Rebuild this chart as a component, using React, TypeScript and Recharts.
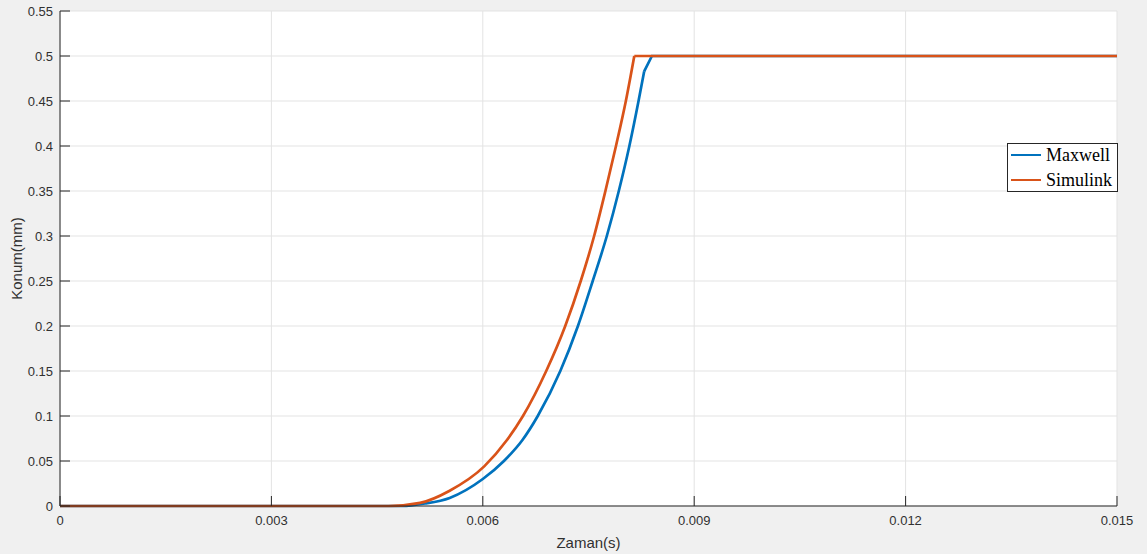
// MATLAB-style position plot: Maxwell vs Simulink armature travel.
import { LineChart, Line, XAxis, YAxis, CartesianGrid, Legend } from "recharts";

const xTicks = [0, 0.003, 0.006, 0.009, 0.012, 0.015];
const yTicks = [0, 0.05, 0.1, 0.15, 0.2, 0.25, 0.3, 0.35, 0.4, 0.45, 0.5, 0.55];

// Zaman (s) / Konum (mm)
const maxwellTime = [0, 0.00485, 0.00518, 0.00553, 0.006, 0.0063, 0.00656, 0.00678, 0.0071, 0.00735, 0.00756, 0.00776, 0.00793, 0.00808, 0.00821, 0.00829, 0.0084, 0.015];
const maxwellPos = [0, 0, 0.0028, 0.009, 0.03, 0.05, 0.073, 0.1, 0.15, 0.2, 0.25, 0.3, 0.35, 0.4, 0.45, 0.483, 0.5, 0.5];

const simulinkTime = [0, 0.00466, 0.00511, 0.00553, 0.00602, 0.00634, 0.00657, 0.0069, 0.00717, 0.00739, 0.00758, 0.00774, 0.00789, 0.00803, 0.00815, 0.015];
const simulinkPos = [0, 0, 0.0035, 0.017, 0.044, 0.073, 0.1, 0.15, 0.2, 0.25, 0.3, 0.35, 0.4, 0.45, 0.5, 0.5];

// smooth rise up to `corner`, straight segments after it (keeps the end-stop corner sharp)
function split(time: number[], pos: number[], corner: number) {
  const rows = time.map((t, i) => ({ t, pos: pos[i] }));
  const k = pos.indexOf(corner);
  return { rise: rows.slice(0, k + 1), flat: rows.slice(k) };
}

const maxwell = split(maxwellTime, maxwellPos, 0.483);
const simulink = split(simulinkTime, simulinkPos, 0.5);

const BLUE = "#0072BD";
const ORANGE = "#D95319";
const AXIS = "#262626";
const LABEL = "#303030";
const FONT = "'Liberation Sans', Arial, Helvetica, sans-serif";
const TICK_LEN = 10;
const X_MARGIN = 10;
const Y_MARGIN = 7;
const LINE_W = 2.7;

const fmtX = (v: number) => String(+v.toFixed(3));
const fmtY = (v: number) => String(+v.toFixed(2));

function BottomTick(props: any) {
  const { x, y, payload } = props;
  const base = y - X_MARGIN;
  return (
    <g>
      <line x1={x} y1={base} x2={x} y2={base - TICK_LEN} stroke={AXIS} />
      <text x={x} y={y} dy="0.71em" textAnchor="middle" fill={LABEL} fontSize={13} fontFamily={FONT}>
        {fmtX(payload.value)}
      </text>
    </g>
  );
}

function TopTick(props: any) {
  const { x, y } = props;
  return <line x1={x} y1={y} x2={x} y2={y + TICK_LEN} stroke={AXIS} />;
}

function LeftTick(props: any) {
  const { x, y, payload } = props;
  const base = x + Y_MARGIN;
  return (
    <g>
      <line x1={base} y1={y} x2={base + TICK_LEN} y2={y} stroke={AXIS} />
      <text x={x} y={y} dy="0.355em" textAnchor="end" fill={LABEL} fontSize={13} fontFamily={FONT}>
        {fmtY(payload.value)}
      </text>
    </g>
  );
}

function RightTick(props: any) {
  const { x, y } = props;
  return <line x1={x} y1={y} x2={x - TICK_LEN} y2={y} stroke={AXIS} />;
}

function LegendBox() {
  const rows = [
    { name: "Maxwell", color: BLUE },
    { name: "Simulink", color: ORANGE },
  ];
  return (
    <div
      style={{
        width: 111,
        height: 49,
        boxSizing: "border-box",
        border: `1px solid ${AXIS}`,
        background: "#fff",
        position: "relative",
      }}
    >
      {rows.map((r, i) => (
        <div key={r.name} style={{ position: "absolute", left: 0, top: i * 25 - 1, height: 24, display: "flex", alignItems: "center" }}>
          <div style={{ width: 30, height: LINE_W, background: r.color, marginLeft: 3 }} />
          <span style={{ marginLeft: 5, fontFamily: "'Liberation Serif', 'Times New Roman', serif", fontSize: 18, color: "#000", lineHeight: "24px" }}>
            {r.name}
          </span>
        </div>
      ))}
    </div>
  );
}

function series(key: string, rows: { rise: any[]; flat: any[] }, color: string) {
  return [
    <Line
      key={key + "-rise"}
      data={rows.rise}
      dataKey="pos"
      type="monotoneX"
      stroke={color}
      strokeWidth={LINE_W}
      dot={false}
      activeDot={false}
      isAnimationActive={false}
    />,
    <Line
      key={key + "-flat"}
      data={rows.flat}
      dataKey="pos"
      type="linear"
      stroke={color}
      strokeWidth={LINE_W}
      dot={false}
      activeDot={false}
      isAnimationActive={false}
    />,
  ];
}

export default function App() {
  return (
    <div style={{ position: "absolute", left: 0, top: 0, width: 1147, height: 554, background: "#f0f0f0" }}>
      <LineChart width={1147} height={554} margin={{ top: 11, right: 30, bottom: 0, left: 0 }}>
        <CartesianGrid stroke="#e3e3e3" fill="#ffffff" />
        <XAxis
          dataKey="t"
          type="number"
          domain={[0, 0.015]}
          ticks={xTicks}
          interval={0}
          height={48}
          tickSize={0}
          tickMargin={X_MARGIN}
          tick={<BottomTick />}
          axisLine={{ stroke: AXIS }}
          label={{ value: "Zaman(s)", position: "insideBottom", offset: 6, fill: LABEL, fontSize: 15, fontFamily: FONT }}
        />
        <XAxis
          xAxisId="top"
          orientation="top"
          type="number"
          domain={[0, 0.015]}
          ticks={xTicks}
          interval={0}
          height={0}
          tickSize={0}
          tickMargin={0}
          tick={<TopTick />}
          axisLine={{ stroke: AXIS }}
        />
        <YAxis
          type="number"
          domain={[0, 0.55]}
          ticks={yTicks}
          interval={0}
          width={60}
          tickSize={0}
          tickMargin={Y_MARGIN}
          tick={<LeftTick />}
          axisLine={{ stroke: AXIS }}
          label={{
            value: "Konum(mm)",
            angle: -90,
            position: "insideLeft",
            offset: 17,
            fill: LABEL,
            fontSize: 15,
            fontFamily: FONT,
            style: { textAnchor: "middle" },
          }}
        />
        <YAxis
          yAxisId="right"
          orientation="right"
          type="number"
          domain={[0, 0.55]}
          ticks={yTicks}
          interval={0}
          width={0}
          tickSize={0}
          tickMargin={0}
          tick={<RightTick />}
          axisLine={{ stroke: AXIS }}
        />
        {series("maxwell", maxwell, BLUE)}
        {series("simulink", simulink, ORANGE)}
        <Legend
          layout="vertical"
          align="center"
          verticalAlign="middle"
          content={() => <LegendBox />}
          wrapperStyle={{ left: 1007, top: 143, width: 111, height: 49 }}
        />
      </LineChart>
    </div>
  );
}
